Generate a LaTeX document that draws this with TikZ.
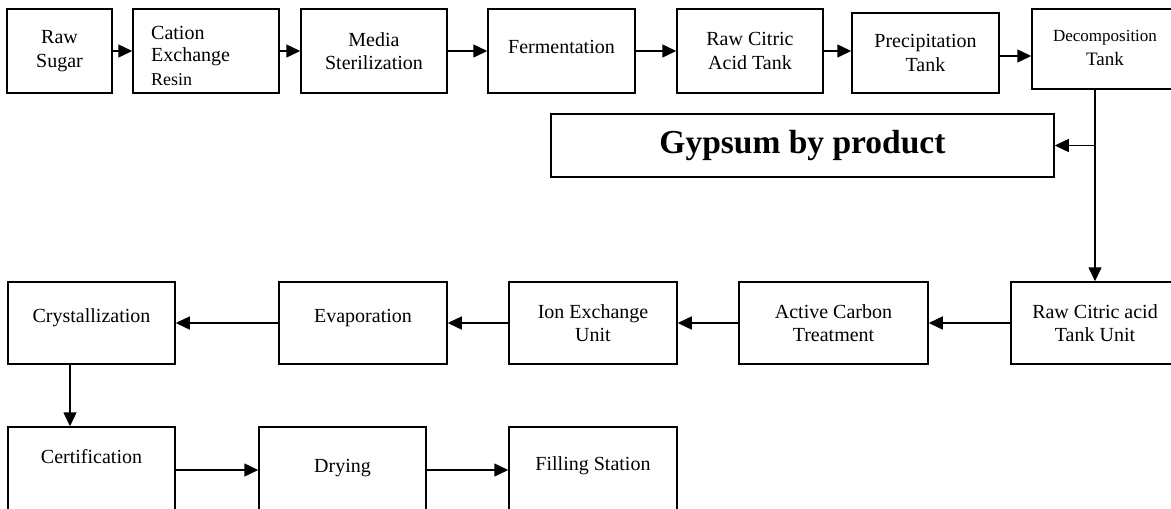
\documentclass[tikz,border=0pt]{standalone}
\usepackage{fontspec}
\setmainfont{Liberation Serif}
\usetikzlibrary{arrows.meta}
\newcommand\fsmain{\fontsize{20}{23.5}\selectfont}
\begin{document}
\begin{tikzpicture}[x=1pt,y=-1pt,
  box/.style={draw, line width=1.5pt, inner sep=0pt, align=center, font=\fsmain},
  txt/.style={inner sep=0pt, align=center, font=\fsmain},
  arr/.style={line width=1.5pt, -{Triangle[length=14pt,width=13pt]}}]
\useasboundingbox (0,0) rectangle (1171,509);
\clip (0,0) rectangle (1171,509);
% ---------- top row
\node[box,minimum width=105,minimum height=84] (rs) at (59.5,51) {Raw\\Sugar};
\node[box,minimum width=146,minimum height=84] (cer) at (206,51) {};
\node[txt,anchor=west] (cer1) at (151,33) {Cation};
\node[txt,anchor=west] (cer2) at (151,57) {Exchange};
\node[txt,anchor=west,font=\fontsize{18}{21}\selectfont] (cer3) at (151,80) {Resin};
\node[box,minimum width=146,minimum height=84] (ms) at (374,51) {Media\\Sterilization};
\node[box,minimum width=147,minimum height=84] (fe) at (561.5,51) {};
\node[txt] (fetxt) at (561.5,47) {Fermentation};
\node[box,minimum width=146,minimum height=84] (rca) at (750,51) {Raw Citric\\Acid Tank};
\node[box,minimum width=147,minimum height=80] (pt) at (925.5,53) {Precipitation\\Tank};
\node[box,minimum width=146,minimum height=80] (dt) at (1105,49) {};
\node[txt,font=\fontsize{17}{20}\selectfont] (dt1) at (1105,38) {Decomposition};
\node[txt,font=\fontsize{19}{22}\selectfont] (dt2) at (1105,59) {Tank};
% ---------- gypsum
\node[box,minimum width=503,minimum height=63,font=\fontsize{33.5}{38}\selectfont\bfseries] (gy) at (802.5,145.5) {Gypsum by product};
% ---------- middle row
\node[box,minimum width=167,minimum height=82] (cr) at (91.5,323) {};
\node[txt] (crtxt) at (91.5,318) {Crystallization};
\node[box,minimum width=168,minimum height=82] (ev) at (363,323) {};
\node[txt] (evtxt) at (363,318) {Evaporation};
\node[box,minimum width=168,minimum height=82] (ie) at (593,323) {Ion Exchange\\Unit};
\node[box,minimum width=189,minimum height=82] (ac) at (833.5,323) {Active Carbon\\Treatment};
\node[box,minimum width=168,minimum height=82] (rctu) at (1095,323) {Raw Citric acid\\Tank Unit};
% ---------- bottom row
\node[box,minimum width=167,minimum height=100] (ce) at (91.5,477) {};
\node[txt] (cetxt) at (91.5,457) {Certification};
\node[box,minimum width=167,minimum height=100] (dr) at (342.5,477) {};
\node[txt] (drtxt) at (342.5,468) {Drying};
\node[box,minimum width=168,minimum height=100] (fs) at (593,477) {};
\node[txt] (fstxt) at (593,466) {Filling Station};
% ---------- connectors
\draw[arr] (rs) -- (cer);
\draw[arr] (cer) -- (ms);
\draw[arr] (ms) -- (fe);
\draw[arr] (fe) -- (rca);
\draw[arr] (rca.east) -- (pt.west |- rca.east);
\draw[arr] (pt.east |- 0,56) -- (dt.west |- 0,56);
\draw[line width=1.5pt] (1095,0 |- dt.south) -- (1095,0 |- gy.east);
\draw[arr] (1095,0 |- gy.east) -- (rctu.north);
\draw[arr] (1095,0 |- gy.east) -- (gy.east);
\draw[arr] (rctu) -- (ac);
\draw[arr] (ac) -- (ie);
\draw[arr] (ie) -- (ev);
\draw[arr] (ev) -- (cr);
\draw[arr] (cr.south -| 70,0) -- (ce.north -| 70,0);
\draw[arr] (ce.east |- 0,470) -- (dr.west |- 0,470);
\draw[arr] (dr.east |- 0,470) -- (fs.west |- 0,470);
\end{tikzpicture}
\end{document}
